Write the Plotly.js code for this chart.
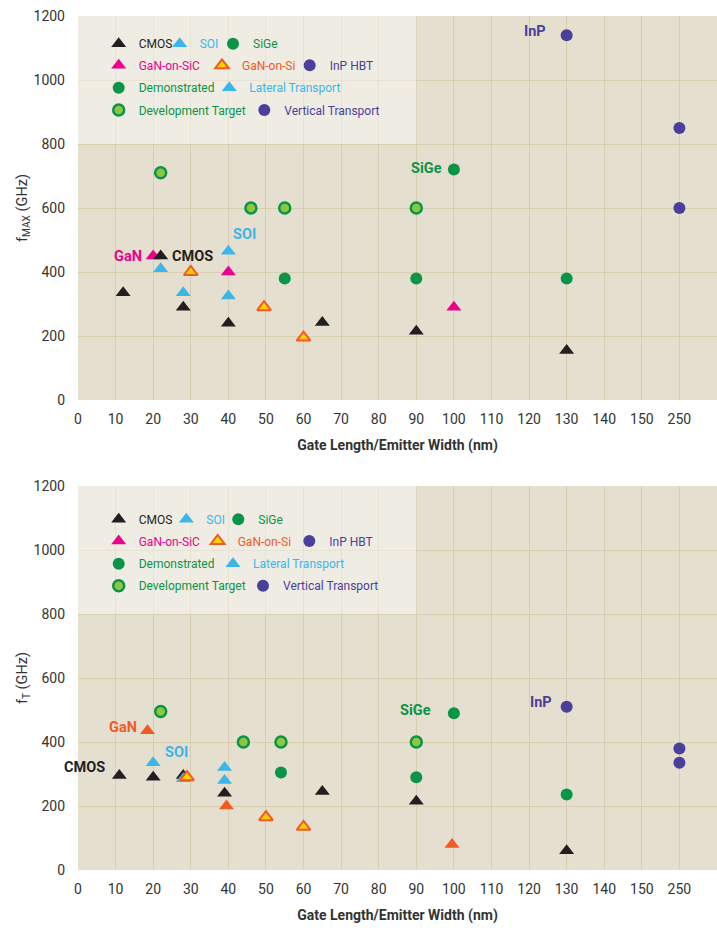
<!DOCTYPE html>
<html><head><meta charset="utf-8">
<script src="https://cdn.plot.ly/plotly-3.0.1.min.js"></script>
<style>html,body{margin:0;padding:0;background:#fff}</style>
</head><body><div id="chart" style="width:717px;height:931px"></div>
<script>
// ---------- tick labels ----------
const xTickVals = [0,10,20,30,40,50,60,70,80,90,100,110,120,130,140,150,160];
const xTickLabels = ['0','10','20','30','40','50','60','70','80','90','100','110','120','130','140','150','250'];

// ---------- fMAX (top) ----------
const cmosFmaxX = [12, 22, 28, 40, 65, 90, 130];
const cmosFmaxY = [335, 450, 290, 240, 242, 215, 155];
const soiFmaxX = [22, 28, 40, 40];
const soiFmaxY = [410, 335, 465, 325];
const ganSicFmaxX = [20, 40, 100];
const ganSicFmaxY = [450, 400, 290];
const ganSiFmaxX = [30, 49.5, 60];
const ganSiFmaxY = [400, 290, 195];
const sigeDemoFmaxX = [55, 90, 100, 130];
const sigeDemoFmaxY = [380, 380, 720, 380];
const sigeTargetFmaxX = [22, 46, 55, 90];
const sigeTargetFmaxY = [710, 600, 600, 600];
const inpFmaxX = [130, 250, 250];
const inpFmaxY = [1140, 850, 600];

// ---------- fT (bottom) ----------
const cmosFtX = [11, 20, 28, 39, 65, 90, 130];
const cmosFtY = [295, 290, 295, 240, 245, 215, 60];
const soiFtX = [20, 28, 39, 39];
const soiFtY = [335, 285, 320, 280];
const ganFtX = [18.5, 39.5, 99.5];
const ganFtY = [435, 200, 80];
const ganSiFtX = [29, 50, 60];
const ganSiFtY = [290, 165, 135];
const sigeDemoFtX = [54, 90, 100, 130];
const sigeDemoFtY = [305, 290, 490, 236];
const sigeTargetFtX = [22, 44, 54, 90];
const sigeTargetFtY = [495, 400, 400, 400];
const inpFtX = [130, 250, 250];
const inpFtY = [510, 380, 335];

// ---------- legend entries ----------
const legendNames = ['CMOS','SOI','SiGe','GaN-on-SiC','GaN-on-Si','InP HBT','Demonstrated','Lateral Transport','Development Target','Vertical Transport'];

// axis break: 250 sits one step after 150
const xPos = v => (v > 150 ? 160 : v);
const mapX = arr => arr.map(xPos);

// ---------- styles ----------
const C = {black:'#231f20', blue:'#3cb6e8', green:'#0a9447', lime:'#8dc63f', pink:'#ec008c', orange:'#f15a24', yellow:'#ffd200', purple:'#4a3f9b'};
const M = {
  cmos:{symbol:'triangle-up', color:C.black, size:13, line:{width:0}},
  soi:{symbol:'triangle-up', color:C.blue, size:13, line:{width:0}},
  sige:{symbol:'circle', color:C.green, size:12, line:{width:0}},
  target:{symbol:'circle', color:C.lime, size:11, line:{color:C.green, width:2.5}},
  gansic:{symbol:'triangle-up', color:C.pink, size:13, line:{width:0}},
  gansi:{symbol:'triangle-up', color:C.yellow, size:12, line:{color:C.orange, width:2}},
  ganSolid:{symbol:'triangle-up', color:C.orange, size:13, line:{width:0}},
  inp:{symbol:'circle', color:C.purple, size:12, line:{width:0}}
};
const legendStyles = [M.cmos, M.soi, M.sige, M.gansic, M.gansi, M.inp, M.sige, M.soi, M.target, M.inp];
const legendColors = [C.black, C.blue, C.green, C.pink, C.orange, C.purple, C.green, C.blue, C.green, C.purple];

function pts(x, y, marker, xa, ya) {
  return {type:'scatter', mode:'markers', x:mapX(x), y:y, marker:marker, xaxis:xa, yaxis:ya,
          showlegend:false, hoverinfo:'x+y', cliponaxis:false};
}

const traces = [
  pts(ganSicFmaxX, ganSicFmaxY, M.gansic, 'x', 'y'),
  pts(cmosFmaxX, cmosFmaxY, M.cmos, 'x', 'y'),
  pts(soiFmaxX, soiFmaxY, M.soi, 'x', 'y'),
  pts(ganSiFmaxX, ganSiFmaxY, M.gansi, 'x', 'y'),
  pts(sigeDemoFmaxX, sigeDemoFmaxY, M.sige, 'x', 'y'),
  pts(sigeTargetFmaxX, sigeTargetFmaxY, M.target, 'x', 'y'),
  pts(inpFmaxX, inpFmaxY, M.inp, 'x', 'y'),

  pts(cmosFtX, cmosFtY, M.cmos, 'x2', 'y2'),
  pts(soiFtX, soiFtY, M.soi, 'x2', 'y2'),
  pts(ganFtX, ganFtY, M.ganSolid, 'x2', 'y2'),
  pts(ganSiFtX, ganSiFtY, M.gansi, 'x2', 'y2'),
  pts(sigeDemoFtX, sigeDemoFtY, M.sige, 'x2', 'y2'),
  pts(sigeTargetFtX, sigeTargetFtY, M.target, 'x2', 'y2'),
  pts(inpFtX, inpFtY, M.inp, 'x2', 'y2')
];

// ---------- layout geometry ----------
const W = 717, H = 931, ML = 78, MR = 0, MT = 16, MB = 61;
const PW = W - ML - MR, PH = H - MT - MB;
const px2x = px => (px - ML) / PW;
const px2y = py => (H - MB - py) / PH;

// legend item positions (pixel symbol centre x, row y) for top and bottom panels
const legendPosTop = [[121.7,43.7],[182.7,43.7],[236,43.7],[121.7,65.3],[225,65.3],[312.7,65.3],[121.7,87.7],[232.3,87.7],[121.7,110],[267.3,110]];
const legendPosBot = [[121.7,519.3],[189.3,519.3],[241.3,519.3],[121.7,541],[220.7,541],[312.3,541],[121.7,563.7],[236,563.7],[121.7,585.7],[266,585.7]];

const layout = {
  width:W, height:H,
  margin:{l:ML, r:MR, t:MT, b:MB, pad:0},
  paper_bgcolor:'#ffffff',
  plot_bgcolor:'#e4dfcf',
  font:{family:'Roboto, sans-serif', size:14, color:'#333333'},
  showlegend:true,
  hovermode:'closest',
  shapes:[],
  annotations:[]
};

const gridC = '#d8ceb2';
function xAxisDef(anchor) {
  return {anchor:anchor, domain:[0,1], range:[0,170], tickmode:'array', tickvals:xTickVals, ticktext:xTickLabels,
    showgrid:true, gridcolor:gridC, gridwidth:1, zeroline:false, showline:false, ticks:'',
    ticklabelstandoff:9, tickfont:{size:14, color:'#333333'},
    title:{text:'<b>Gate Length/Emitter Width (nm)</b>', font:{size:14, color:'#333333'}, standoff:14}};
}
function yAxisDef(anchor, domain, title) {
  return {anchor:anchor, domain:domain, range:[0,1200], tickmode:'linear', tick0:0, dtick:200,
    showgrid:true, gridcolor:gridC, gridwidth:1, zeroline:false, showline:false, ticks:'',
    ticklabelstandoff:12, tickfont:{size:14, color:'#333333'},
    title:{text:title, font:{size:14.5, color:'#333333'}, standoff:2}};
}
const topDom = [px2y(400), 1];
const botDom = [0, px2y(486)];
layout.xaxis = xAxisDef('y');
layout.yaxis = yAxisDef('x', topDom, 'f<sub>MAX</sub> (GHz)');
layout.xaxis2 = xAxisDef('y2');
layout.yaxis2 = yAxisDef('x2', botDom, 'f<sub>T</sub> (GHz)');

// light upper-left region
[['x','y'],['x2','y2']].forEach(([xr, yr]) => {
  layout.shapes.push({type:'rect', xref:xr, yref:yr, x0:0, x1:90, y0:800, y1:1200,
    fillcolor:'rgba(255,255,255,0.42)', line:{width:0}, layer:'between'});
});

// in-plot labels
function lab(text, x, y, color, xr, yr) {
  layout.annotations.push({text:'<b>'+text+'</b>', x:x, y:y, xref:xr, yref:yr, showarrow:false,
    xanchor:'center', yanchor:'middle', font:{size:14.5, color:color, family:'Roboto, sans-serif'}});
}
lab('InP', 121.5, 1153, C.purple, 'x', 'y');
lab('SiGe', 92.6, 725, C.green, 'x', 'y');
lab('SOI', 44.3, 516, C.blue, 'x', 'y');
lab('GaN', 13.3, 447, C.pink, 'x', 'y');
lab('CMOS', 30.5, 447, C.black, 'x', 'y');
lab('SiGe', 89.9, 497, C.green, 'x2', 'y2');
lab('InP', 123.3, 525, C.purple, 'x2', 'y2');
lab('SOI', 26.3, 366, C.blue, 'x2', 'y2');
lab('CMOS', 1.7, 319, C.black, 'x2', 'y2');
lab('GaN', 12.1, 444, C.orange, 'x2', 'y2');

// legends: one Plotly legend per entry so the irregular grid can be matched
let lgIdx = 1;
[legendPosTop, legendPosBot].forEach(posArr => {
  legendNames.forEach((name, i) => {
    const key = lgIdx === 1 ? 'legend' : 'legend' + lgIdx;
    const [sx, sy] = posArr[i];
    layout[key] = {x:px2x(sx - 23), y:px2y(sy), xanchor:'left', yanchor:'middle',
      xref:'paper', yref:'paper', bgcolor:'rgba(0,0,0,0)', borderwidth:0,
      font:{size:12, color:legendColors[i], family:'Roboto, sans-serif'}, itemclick:false, itemdoubleclick:false};
    traces.push({type:'scatter', mode:'markers', x:[null], y:[null], name:name, legend:key,
      marker:legendStyles[i], showlegend:true, hoverinfo:'skip'});
    lgIdx++;
  });
});

Plotly.newPlot('chart', traces, layout, {displayModeBar:false, staticPlot:false});
</script>
</body></html>
